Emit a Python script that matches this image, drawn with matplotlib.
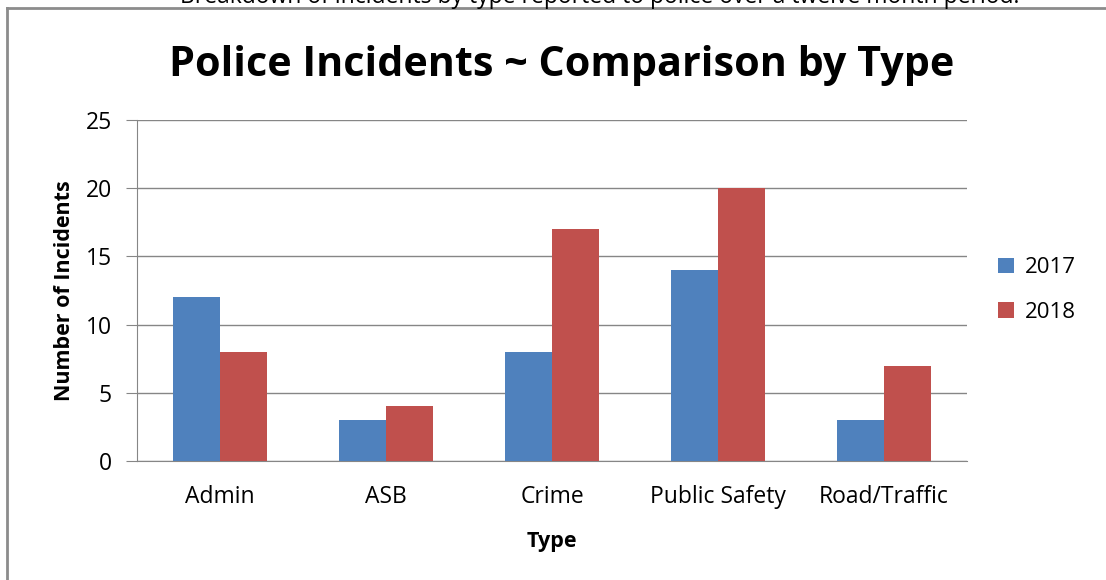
import matplotlib
matplotlib.use("Agg")
import matplotlib.pyplot as plt
from matplotlib.lines import Line2D
import numpy as np

### data
categories = ['Admin', 'ASB', 'Crime', 'Public Safety', 'Road/Traffic']
incidents_2017 = [12, 3, 8, 14, 3]
incidents_2018 = [8, 4, 17, 20, 7]
years = ['2017', '2018']
yticks = [0, 5, 10, 15, 20, 25]

plt.rcParams['font.family'] = ['Open Sans', 'DejaVu Sans']

W, H = 1106, 580
fig = plt.figure(figsize=(W / 100, H / 100), dpi=100)

### axes placed in pixel terms
left, right, top, bottom = 137, 967, 120, 461
ax = fig.add_axes([left / W, 1 - bottom / H, (right - left) / W, (bottom - top) / H])

x = np.arange(len(categories))
bw = 0.285
ax.bar(x - bw / 2, incidents_2017, bw, color='#4F81BD', label=years[0], zorder=3)
ax.bar(x + bw / 2, incidents_2018, bw, color='#C0504D', label=years[1], zorder=3)

ax.set_xlim(-0.5, len(categories) - 0.5)
ax.set_ylim(0, 25)
ax.set_yticks(yticks)
ax.set_xticks(x)
ax.set_xticklabels(categories, fontsize=16.5)
ax.tick_params(axis='y', labelsize=16.5, length=8, color='#868686', pad=10)
ax.tick_params(axis='x', length=0, pad=17)
ax.yaxis.grid(True, color='#868686', linewidth=1, zorder=0)

for s in ['top', 'right']:
    ax.spines[s].set_visible(False)
ax.spines['left'].set_color('#868686')
ax.spines['bottom'].set_color('#868686')

ax.set_ylabel('Number of Incidents', fontsize=15.5, fontweight='bold', labelpad=8)
ax.set_xlabel('Type', fontsize=15.5, fontweight='bold', labelpad=16)

fig.text(562 / W, 1 - 65 / H, 'Police Incidents ~ Comparison by Type',
         fontsize=29.7, fontweight='bold', ha='center', va='center')

ax.legend(loc='center left', bbox_to_anchor=(978 / W, 1 - 290 / H),
          bbox_transform=fig.transFigure, frameon=False, fontsize=16,
          handlelength=0.7, handleheight=0.7, labelspacing=1.05, handletextpad=0.5)

### clipped heading above the chart frame
fig.text(600 / W, 1 - 3 / H,
         'Breakdown of incidents by type reported to police over a twelve month period.',
         fontsize=16.5, ha='center', va='baseline')

### chart frame
fig.add_artist(Line2D([7 / W, 7 / W], [0, 1 - 8 / H], color='#8c8c8c', linewidth=2))
fig.add_artist(Line2D([7 / W, 1], [1 - 8 / H, 1 - 8 / H], color='#8c8c8c', linewidth=2))

plt.savefig('out.png', dpi=100)
